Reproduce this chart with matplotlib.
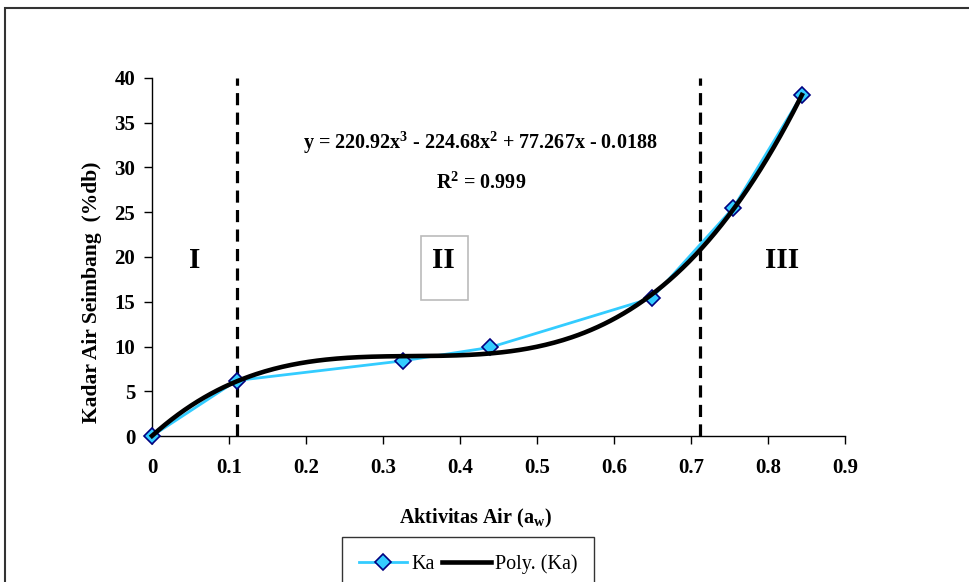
import numpy as np
import matplotlib
matplotlib.use("Agg")
import matplotlib.pyplot as plt
from matplotlib.patches import Rectangle

# Data
aw = [0.0, 0.110, 0.326, 0.439, 0.649, 0.755, 0.844]
ka = [0.0, 6.2, 8.4, 9.9, 15.4, 25.5, 38.1]
region_bounds = [0.110, 0.712]
region_labels = ["I", "II", "III"]
region_label_x = [0.056, 0.378, 0.818]
xticks = [0, 0.1, 0.2, 0.3, 0.4, 0.5, 0.6, 0.7, 0.8, 0.9]
xticklabels = ["0", "0.1", "0.2", "0.3", "0.4", "0.5", "0.6", "0.7", "0.8", "0.9"]
yticks = [0, 5, 10, 15, 20, 25, 30, 35, 40]

plt.rcParams['font.family'] = ['Liberation Serif', 'DejaVu Serif']
plt.rcParams['mathtext.fontset'] = 'custom'
plt.rcParams['mathtext.rm'] = 'Liberation Serif'
plt.rcParams['mathtext.it'] = 'Liberation Serif:italic'
plt.rcParams['mathtext.bf'] = 'Liberation Serif:bold'

fig = plt.figure(figsize=(9.69, 5.82), dpi=100)
ax = fig.add_axes([152/969, 1-436/582, (845-152)/969, (436-78)/582])

# polynomial trendline (3rd order) fitted to the data
coef = np.polyfit(aw, ka, 3)
xs = np.linspace(0, max(aw), 300)
ys = np.polyval(coef, xs)

ax.plot(aw, ka, color='#33CCFF', lw=2.0, marker='D', markersize=8.5,
        markerfacecolor='#33CCFF', markeredgecolor='#000080', markeredgewidth=1.2,
        label='Ka', clip_on=False, zorder=3)
ax.plot(xs, ys, color='black', lw=3.3, label='Poly. (Ka)', zorder=4, clip_on=False)

for xb in region_bounds:
    ax.plot([xb, xb], [0, 40], color='black', lw=2.3, linestyle=(0, (3.8, 2.3)),
            zorder=2, clip_on=False)

for lab, xl in zip(region_labels, region_label_x):
    ax.text(xl, 19.6, lab, fontsize=21, fontweight='bold', ha='center', va='center')
# light box around label II
ax.add_patch(Rectangle((0.349, 15.2), 0.061, 7.1, fill=False, edgecolor='#BBBBBB', lw=1.2))

ax.text(0.427, 32.8, r"y = 220.92x$^\mathbf{3}$ - 224.68x$^\mathbf{2}$ + 77.267x - 0.0188",
        fontsize=14.5, fontweight='bold', ha='center', va='center')
ax.text(0.427, 28.3, r"R$^\mathbf{2}$ = 0.999", fontsize=14.5, fontweight='bold',
        ha='center', va='center')

ax.set_xlim(0, 0.9)
ax.set_ylim(0, 40)
ax.set_xticks(xticks)
ax.set_xticklabels(xticklabels)
ax.set_yticks(yticks)
for s in ['top', 'right']:
    ax.spines[s].set_visible(False)
for s in ['left', 'bottom']:
    ax.spines[s].set_linewidth(1.0)
ax.tick_params(direction='out', length=6, width=1, labelsize=15)
ax.tick_params(axis='x', pad=10)
ax.tick_params(axis='y', pad=6)
for lbl in ax.get_xticklabels() + ax.get_yticklabels():
    lbl.set_fontweight('bold')

fig.text(475/969, 1-518/582, r"Aktivitas Air (a$_\mathbf{w}$)", fontsize=14.5,
         fontweight='bold', ha='center', va='center')
fig.text(92/969, 1-292/582, "Kadar Air Seimbang  (%db)", fontsize=15.5,
         fontweight='bold', ha='center', va='center', rotation=90)

leg = fig.legend(loc='upper center', bbox_to_anchor=(468/969, 1-537/582), ncol=2,
                 frameon=True, fancybox=False, edgecolor='black', fontsize=14.5,
                 handlelength=2.4, columnspacing=0.4, handletextpad=0.2, borderpad=0.85,
                 borderaxespad=0.0)
leg.get_frame().set_linewidth(1.0)

fig.patches.append(Rectangle((5/969, -0.05), 1.2, 1-8/582+0.05, transform=fig.transFigure,
                             fill=False, edgecolor='#333333', lw=1.5))

fig.savefig("out.png", dpi=100)
